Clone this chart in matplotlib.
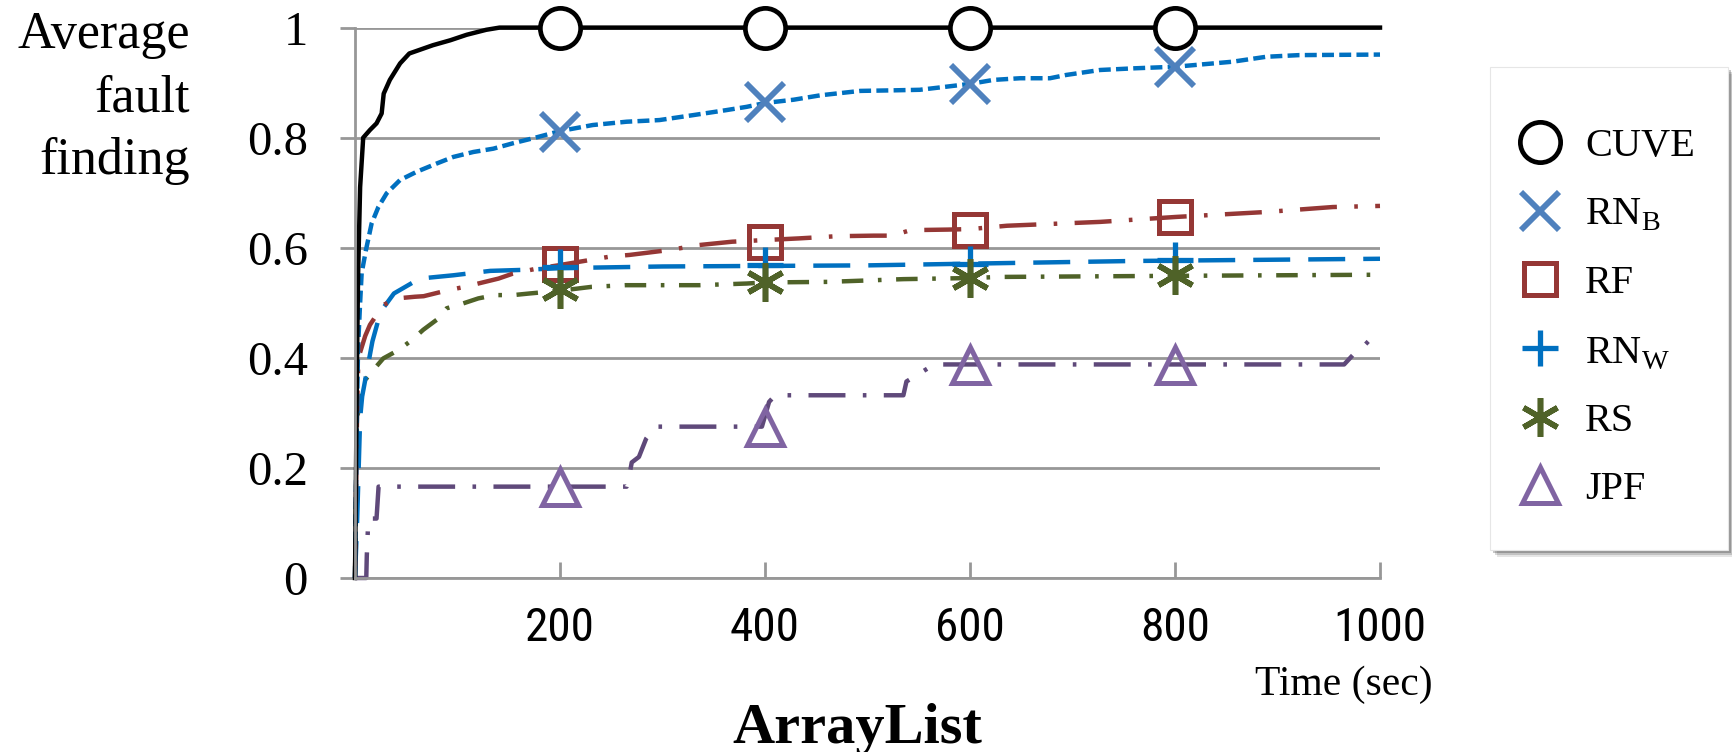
import matplotlib
matplotlib.use("Agg")
import matplotlib.pyplot as plt
from matplotlib import font_manager as fm
from matplotlib.lines import Line2D
from matplotlib.patches import Rectangle

# ---- data ----
cuve_x = [0, 1, 2, 3, 5, 8, 14.6, 21, 26, 28, 34, 44, 53, 76, 93, 109, 128, 141, 1000]
cuve_y = [0, 0.2, 0.4, 0.55, 0.71, 0.80, 0.814, 0.826, 0.844, 0.88, 0.905, 0.935, 0.953,
          0.968, 0.977, 0.987, 0.996, 1.0, 1.0]

rnb_x = [0, 1.5, 3, 5, 6.5, 10.7, 16.2, 22.8, 30.9, 43.9, 60.1, 79.6, 95.9, 115.4, 134.9,
         154.4, 173.9, 200, 232, 265, 297, 330, 362, 382, 400, 428, 454, 493, 525, 551,
         574, 601, 623, 649, 678, 694, 727, 760, 801, 856, 889, 921, 1000]
rnb_y = [0, 0.25, 0.42, 0.5, 0.554, 0.596, 0.644, 0.674, 0.699, 0.723, 0.738, 0.753, 0.765,
         0.774, 0.780, 0.790, 0.799, 0.812, 0.823, 0.829, 0.832, 0.841, 0.850, 0.856, 0.863,
         0.869, 0.877, 0.885, 0.886, 0.887, 0.892, 0.898, 0.905, 0.908, 0.908, 0.914, 0.923,
         0.926, 0.929, 0.938, 0.947, 0.950, 0.951]

rf_x = [0, 1, 2, 3.3, 5, 10, 14.6, 27.6, 41, 58.5, 67, 91, 107, 140, 154, 177, 198, 249,
        268, 307, 336, 368, 400, 433, 470, 506, 524, 542, 578, 601, 636, 727, 801, 889,
        954, 1000]
rf_y = [0, 0.15, 0.3, 0.402, 0.41, 0.44, 0.46, 0.496, 0.508, 0.511, 0.512, 0.523, 0.529,
        0.544, 0.553, 0.562, 0.568, 0.584, 0.587, 0.596, 0.605, 0.611, 0.614, 0.617, 0.621,
        0.622, 0.622, 0.632, 0.633, 0.634, 0.640, 0.647, 0.656, 0.665, 0.674, 0.676]

rnw_x = [0, 2, 3.6, 5, 7, 10, 13, 17, 21, 25, 38, 63, 96, 132, 167, 200, 300, 400, 500,
         629, 760, 1000]
rnw_y = [0, 0.1, 0.2, 0.29, 0.33, 0.36, 0.39, 0.43, 0.457, 0.484, 0.517, 0.544, 0.55,
         0.558, 0.56, 0.563, 0.566, 0.567, 0.568, 0.572, 0.576, 0.58]

rs_x = [0, 1, 2, 5, 10, 17.9, 27.6, 42.3, 55.3, 66.6, 79.6, 89.4, 105.7, 120.3, 136.6,
        154.4, 170.6, 200, 231, 264, 336, 382, 400, 461, 506, 535, 601, 629, 800, 1000]
rs_y = [0, 0.15, 0.29, 0.32, 0.36, 0.378, 0.399, 0.414, 0.432, 0.451, 0.469, 0.490, 0.499,
        0.508, 0.514, 0.514, 0.517, 0.522, 0.529, 0.532, 0.532, 0.535, 0.537, 0.538, 0.541,
        0.543, 0.545, 0.547, 0.549, 0.551]

jpf_x = [0, 11, 11.5, 13, 21, 23, 265, 268, 270, 277, 284, 293, 397, 404, 410, 535, 538,
         552, 565, 965, 975, 985, 1000]
jpf_y = [0, 0, 0.04, 0.108, 0.108, 0.166, 0.166, 0.19, 0.21, 0.22, 0.253, 0.275, 0.275,
         0.32, 0.332, 0.332, 0.357, 0.373, 0.388, 0.388, 0.408, 0.423, 0.452]

marker_x = [200, 400, 600, 800]
cuve_m = [1.0, 1.0, 1.0, 1.0]
rnb_m = [0.811, 0.865, 0.898, 0.928]
rf_m = [0.571, 0.610, 0.633, 0.656]
rnw_m = [0.565, 0.568, 0.570, 0.577]
rs_m = [0.525, 0.538, 0.545, 0.551]
jpf_m = [0.166, 0.275, 0.387, 0.387]

x_ticks = [200, 400, 600, 800, 1000]
y_ticks = [0, 0.2, 0.4, 0.6, 0.8, 1.0]
y_ticklabels = ["0", "0.2", "0.4", "0.6", "0.8", "1"]
legend_labels = ["CUVE", r"RN$_\mathregular{B}$", "RF", r"RN$_\mathregular{W}$", "RS", "JPF"]

# ---- style ----
plt.rcParams["lines.scale_dashes"] = False
plt.rcParams["mathtext.fontset"] = "custom"
plt.rcParams["mathtext.rm"] = "Liberation Serif"
SERIF = "Liberation Serif"
GRID = "#979797"

# a narrow sans for the x tick labels if one is installed
XFONT, XSIZE = "Liberation Sans", 31
for name, size in [("Liberation Sans Narrow", 35), ("Roboto Condensed", 34),
                   ("Open Sans Condensed", 34)]:
    try:
        fm.findfont(name, fallback_to_default=False)
        XFONT, XSIZE = name, size
        break
    except ValueError:
        pass

W, H = 1733, 752
fig = plt.figure(figsize=(W / 100, H / 100), dpi=100)
ax = fig.add_axes([355 / W, 1 - 578 / H, (1380 - 355) / W, (578 - 27.6) / H])

ax.set_xlim(0, 1000)
ax.set_ylim(0, 1)
for s in ["top", "right"]:
    ax.spines[s].set_visible(False)
for s in ["left", "bottom"]:
    ax.spines[s].set_color(GRID)
    ax.spines[s].set_linewidth(2.0)
ax.yaxis.grid(True, color=GRID, linewidth=2.0)
ax.set_axisbelow(True)

ax.set_xticks(x_ticks)
ax.set_xticklabels([str(t) for t in x_ticks], fontfamily=XFONT, fontsize=XSIZE)
ax.tick_params(axis="x", direction="in", length=11.5, width=2.0, color=GRID, pad=20)
ax.set_yticks(y_ticks)
ax.set_yticklabels(y_ticklabels, fontfamily=SERIF, fontsize=35)
ax.tick_params(axis="y", direction="out", length=11, width=2.0, color=GRID, pad=23)

lw = 3.2
series = [
    (jpf_x, jpf_y, "#5F497A", (0, (26.6, 12.5, 2.6, 12.5))),
    (rs_x, rs_y, "#4F6228", (0, (15.5, 10.5, 2.6, 10.5))),
    (rnw_x, rnw_y, "#0070C0", (0, (26.6, 13))),
    (rf_x, rf_y, "#953735", (0, (26.6, 12.5, 2.6, 12.5))),
    (rnb_x, rnb_y, "#0070C0", (0, (8.6, 3.8))),
    (cuve_x, cuve_y, "#000000", "-"),
]
for xs, ys, c, ls in series:
    ax.plot(xs, ys, color=c, linestyle=ls, linewidth=lw, clip_on=False)

# markers (value, style)
mk = [
    (cuve_m, dict(marker="o", ms=29, mew=3.4, mec="black", mfc="white")),
    (rnb_m, dict(marker="x", ms=28, mew=4.2, mec="#4F81BD")),
    (rf_m, dict(marker="s", ms=23, mew=3.6, mec="#953735", mfc="none")),
    (rnw_m, dict(marker="+", ms=26, mew=3.8, mec="#0070C0")),
    (rs_m, dict(marker=(6, 2, 0), ms=28, mew=4.0, mec="#4F6228")),
    (jpf_m, dict(marker="^", ms=26, mew=3.6, mec="#8064A2", mfc="none")),
]
for vals, kw in mk:
    ax.plot(marker_x, vals, linestyle="none", clip_on=False, zorder=4, **kw)

# axis texts
for txt, yb in [("Average", 48), ("fault", 111), ("finding", 174)]:
    fig.text(190 / W, 1 - yb / H, txt, ha="right", va="baseline",
             fontfamily=SERIF, fontsize=37.5)
fig.text(1433 / W, 1 - 685 / H, "Time (sec)", ha="right", va="center",
         fontfamily=SERIF, fontsize=30)
fig.text(857 / W, 1 - 743 / H, "ArrayList", ha="center", va="baseline",
         fontfamily=SERIF, fontsize=42, fontweight="bold")

# legend box with a soft shadow
for off, a in [(7, 0.10), (5, 0.15), (3, 0.22)]:
    fig.patches.append(Rectangle(((1490 + off) / W, 1 - (550 + off) / H), 238 / W, 483 / H,
                                 transform=fig.transFigure, facecolor="black", alpha=a,
                                 edgecolor="none", zorder=1))
fig.patches.append(Rectangle((1490 / W, 1 - 550 / H), 238 / W, 483 / H,
                             transform=fig.transFigure, facecolor="white",
                             edgecolor="#e6e6e6", linewidth=0.8, zorder=2))

handles = [Line2D([], [], linestyle="none", **kw) for _, kw in mk]
leg = fig.legend(handles, legend_labels, loc="upper left",
                 bbox_to_anchor=(1520 / W, 1 - 128 / H), frameon=False,
                 prop={"family": SERIF, "size": 29}, borderpad=0, borderaxespad=0,
                 handlelength=1.0, handletextpad=0.62, labelspacing=0.78)
leg.set_zorder(5)

fig.savefig("out.png", dpi=100)
